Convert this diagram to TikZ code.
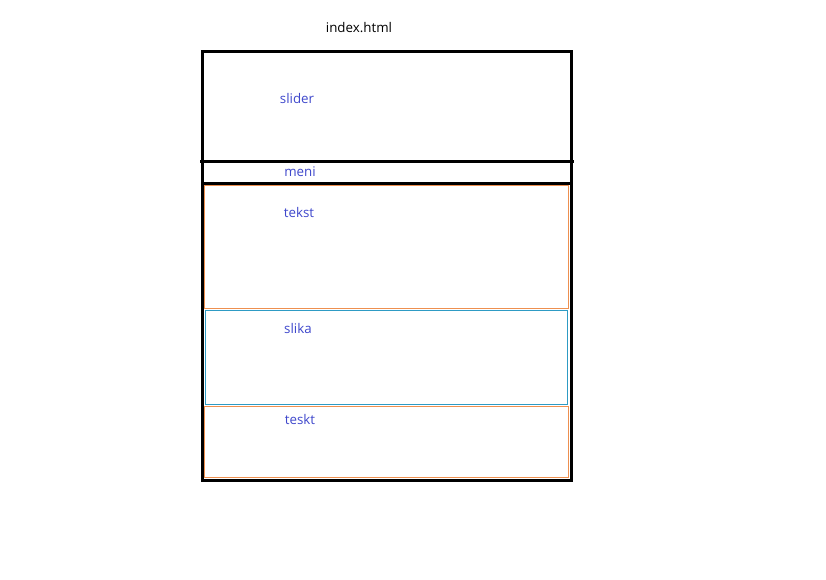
\documentclass[tikz,border=0pt]{standalone}
\usepackage{fontspec}
\setmainfont{Open Sans}
\begin{document}
\begin{tikzpicture}[x=0.75pt,y=-0.75pt,
  lbl/.style={text=labelblue,font=\fontsize{10}{12}\selectfont,inner sep=0pt},
  frame/.style={draw=black,line width=2.25pt},
  obox/.style={draw=boxorange,line width=0.9pt},
  bbox/.style={draw=boxblue,line width=0.9pt}]
\definecolor{labelblue}{HTML}{3F48CC}
\definecolor{boxorange}{HTML}{EE9050}
\definecolor{boxblue}{HTML}{2E9BC4}
\useasboundingbox[fill=white] (0,0) rectangle (826,580);
\node[inner sep=0pt,font=\fontsize{10}{12}\selectfont] (title) at (359,28) {index.html};
\draw[frame] (202.5,51.5) rectangle (571.5,480.5);
\draw[frame] (200,161.5) -- (574,161.5);
\draw[frame] (202.5,183.5) -- (571.5,183.5);
\draw[obox] (204.5,185.5) rectangle (568.5,308.5);
\draw[bbox] (205.5,310.5) rectangle (567.5,404.5);
\draw[obox] (204.5,406.5) rectangle (568.5,477.5);
\node[lbl] (slider) at (297,99) {slider};
\node[lbl] (meni) at (300,172) {meni};
\node[lbl] (tekst) at (299,213) {tekst};
\node[lbl] (slika) at (298,329) {slika};
\node[lbl] (teskt) at (300,420) {teskt};
\end{tikzpicture}
\end{document}
